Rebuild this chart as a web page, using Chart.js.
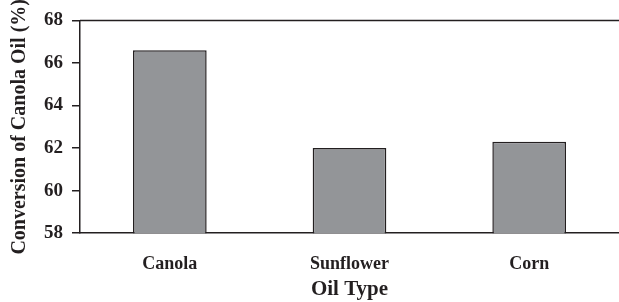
<!DOCTYPE html>
<html>
<head>
<meta charset="utf-8">
<script src="https://cdn.jsdelivr.net/npm/chart.js@4"></script>
<style>
  html,body{margin:0;padding:0;background:#fff;}
  #wrap{width:619px;height:302px;position:relative;}
</style>
</head>
<body>
<div id="wrap"><canvas id="chartConv"></canvas></div>
<script>
// data
const oilTypes = ['Canola', 'Sunflower', 'Corn'];
const conversion = [66.6, 62.0, 62.3];
const yTicks = [58, 60, 62, 64, 66, 68];

const INK = '#231f20';
const BAR_FILL = '#939598';
const SERIF = '"Liberation Serif", "Times New Roman", serif';

// garis atas kotak plot (frame)
const topFrame = {
  id: 'topFrame',
  afterDraw(chart){
    const a = chart.chartArea, ctx = chart.ctx;
    ctx.save();
    ctx.strokeStyle = INK; ctx.lineWidth = 1.5;
    ctx.beginPath(); ctx.moveTo(a.left, a.top); ctx.lineTo(chart.width, a.top); ctx.stroke();
    ctx.restore();
  }
};

const ctx = document.getElementById('chartConv').getContext('2d');
new Chart(ctx, {
  type: 'bar',
  data: {
    labels: oilTypes,
    datasets: [{
      data: conversion,
      backgroundColor: BAR_FILL,
      borderColor: INK,
      borderWidth: 1.5,
      borderSkipped: false,
      barPercentage: 0.41,
      categoryPercentage: 1
    }]
  },
  options: {
    responsive: true, maintainAspectRatio: false, animation: false,
    layout: { padding: { top: 20, right: -3, bottom: 0, left: 0 } },
    plugins: { legend: { display: false }, tooltip: { enabled: false } },
    scales: {
      x: {
        // tick transparan cuma buat jarak label ke sumbu
        grid: { display: true, drawOnChartArea: false, drawTicks: true, tickLength: 18, color: 'rgba(0,0,0,0)' },
        border: { display: true, color: INK, width: 1.5 },
        ticks: { color: INK, font: { family: SERIF, size: 18, weight: 'bold' }, padding: 2, maxRotation: 0 },
        title: { display: true, text: 'Oil Type', color: INK, font: { family: SERIF, size: 21, weight: 'bold' }, padding: { top: 0, bottom: 0 } }
      },
      y: {
        min: 58, max: 68,
        afterBuildTicks: axis => { axis.ticks = yTicks.map(v => ({ value: v })); },
        grid: { drawOnChartArea: false, drawTicks: true, tickLength: 8, color: INK, lineWidth: 1.5 },
        border: { display: true, color: INK, width: 1.5 },
        ticks: { color: INK, font: { family: SERIF, size: 19, weight: 'bold' }, padding: 9 },
        title: { display: true, text: 'Conversion of Canola Oil (%)', color: INK, font: { family: SERIF, size: 20, weight: 'bold' }, padding: { top: 8, bottom: 3 } }
      }
    }
  },
  plugins: [topFrame]
});
</script>
</body>
</html>
